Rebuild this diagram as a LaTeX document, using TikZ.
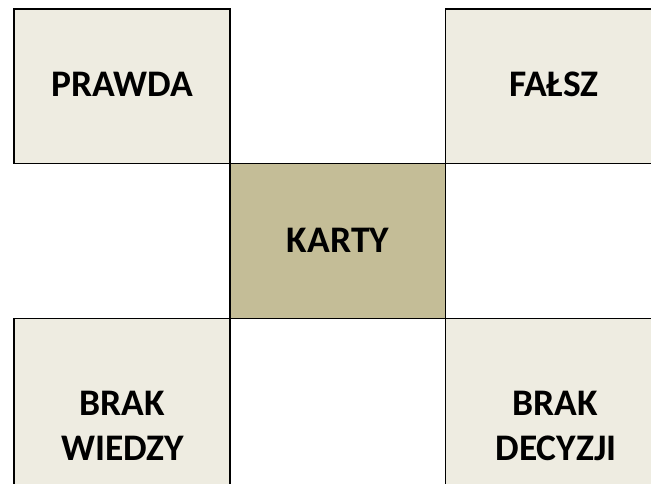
\documentclass[tikz,border=0pt]{standalone}
\usepackage{fontspec}
\setmainfont{Carlito}
\definecolor{lightfill}{HTML}{EEECE1}
\definecolor{darkfill}{HTML}{C4BD97}
\begin{document}
\begin{tikzpicture}[x=1pt,y=1pt,
  cell/.style={draw=black, line width=1.6pt, inner sep=0pt, outer sep=0pt},
  lightcell/.style={cell, fill=lightfill},
  darkcell/.style={cell, fill=darkfill},
  lbl/.style={anchor=base, inner sep=0pt, font=\fontsize{37.5}{45}\selectfont\bfseries}]
\useasboundingbox (0,0) rectangle (651,483);
\fill[white] (0,0) rectangle (651,483);
\clip (0,0) rectangle (651,483);
% cells
\path[lightcell] (14,319.5) rectangle (230,474) node[pos=.5] (prawdabox) {};
\path[lightcell] (445.5,319.5) rectangle (665,474) node[pos=.5] (falszbox) {};
\path[lightcell] (14,-60) rectangle (230,164.5) node[pos=.5] (wiedzybox) {};
\path[lightcell] (445.5,-60) rectangle (665,164.5) node[pos=.5] (decyzjibox) {};
\path[darkcell] (230,164.5) rectangle (445.5,319.5) node[pos=.5] (kartybox) {};
% labels
\node[lbl] (prawda) at (122,386) {PRAWDA};
\node[lbl] (falsz) at (554,386) {FAŁSZ};
\node[lbl] (karty) at (338,231) {KARTY};
\node[lbl] (brak1) at (122.5,68) {BRAK};
\node[lbl] (wiedzy) at (122.5,23) {WIEDZY};
\node[lbl] (brak2) at (555,68) {BRAK};
\node[lbl] (decyzji) at (556,23) {DECYZJI};
\end{tikzpicture}
\end{document}
